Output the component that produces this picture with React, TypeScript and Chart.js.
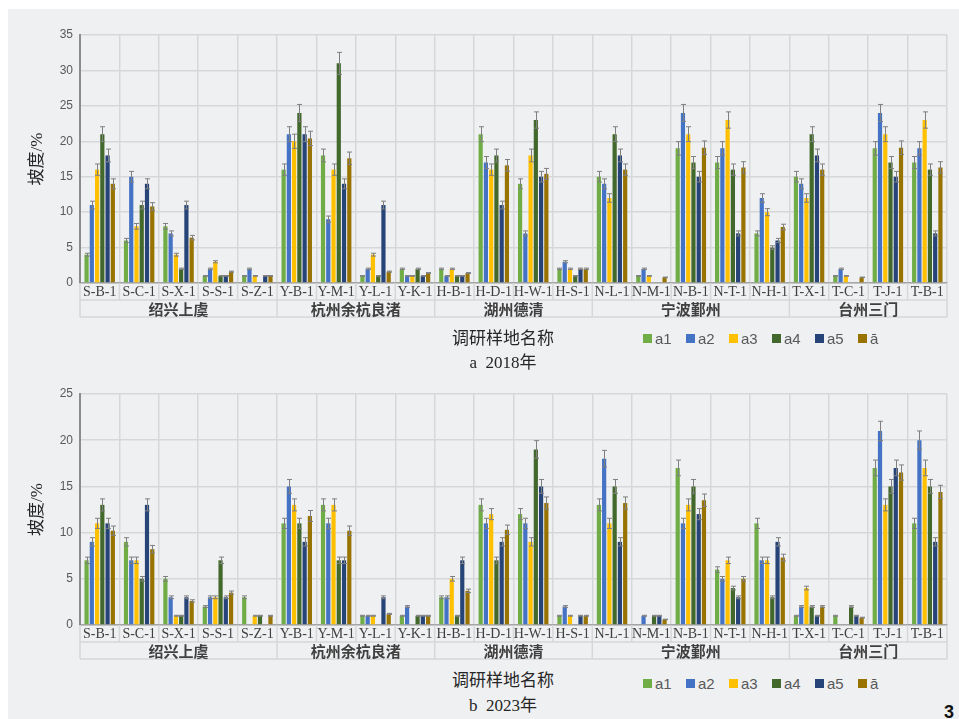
import React, { useEffect, useRef } from "react";
import { Chart, registerables } from "chart.js";

Chart.register(...registerables);

// ---------- data ----------
const categories = [
  "S-B-1", "S-C-1", "S-X-1", "S-S-1", "S-Z-1",
  "Y-B-1", "Y-M-1", "Y-L-1", "Y-K-1",
  "H-B-1", "H-D-1", "H-W-1", "H-S-1",
  "N-L-1", "N-M-1", "N-B-1", "N-T-1", "N-H-1",
  "T-X-1", "T-C-1", "T-J-1", "T-B-1",
];
const groupNames = ["绍兴上虞", "杭州余杭良渚", "湖州德清", "宁波鄞州", "台州三门"];
const groupSizes = [5, 4, 4, 5, 4];

const seriesNames = ["a1", "a2", "a3", "a4", "a5", "ā"];
const seriesColors = ["#70ad47", "#4472c4", "#ffc000", "#43682b", "#264478", "#997300"];

const a1_2018 = [4, 6, 8, 1, 1, 16, 18, 1, 2, 2, 21, 14, 2, 15, 1, 19, 17, 7, 15, 1, 19, 17];
const a2_2018 = [11, 15, 7, 2, 2, 21, 9, 2, 1, 1, 17, 7, 3, 14, 2, 24, 19, 12, 14, 2, 24, 19];
const a3_2018 = [16, 8, 4, 3, 1, 20, 16, 4, 1, 2, 16, 18, 2, 12, 1, 21, 23, 10, 12, 1, 21, 23];
const a4_2018 = [21, 11, 2, 1, 0, 24, 31, 1, 2, 1, 18, 23, 1, 21, 0, 17, 16, 5, 21, 0, 17, 16];
const a5_2018 = [18, 14, 11, 1, 1, 21, 14, 11, 1, 1, 11, 15, 2, 18, 0, 15, 7, 6, 18, 0, 15, 7];
const avg_2018 = [14, 10.8, 6.4, 1.6, 1, 20.4, 17.6, 1.6, 1.4, 1.4, 16.6, 15.4, 2, 16, 0.8, 19.1, 16.3, 7.9, 16, 0.8, 19.1, 16.3];

const a1_2023 = [7, 9, 5, 2, 3, 11, 13, 1, 1, 3, 13, 12, 1, 13, 0, 17, 6, 11, 1, 1, 17, 11];
const a2_2023 = [9, 7, 3, 3, 0, 15, 11, 1, 2, 3, 11, 11, 2, 18, 1, 11, 5, 7, 2, 0, 21, 20];
const a3_2023 = [11, 7, 1, 3, 1, 13, 13, 1, 0, 5, 12, 9, 1, 11, 0, 13, 7, 7, 4, 0, 13, 17];
const a4_2023 = [13, 5, 1, 7, 1, 11, 7, 0, 1, 1, 7, 19, 0, 15, 1, 15, 4, 3, 2, 2, 15, 15];
const a5_2023 = [11, 13, 3, 3, 0, 9, 7, 3, 1, 7, 9, 15, 1, 9, 1, 12, 3, 9, 1, 1, 17, 9];
const avg_2023 = [10.2, 8.2, 2.6, 3.5, 1, 11.8, 10.2, 1.2, 1, 3.7, 10.3, 13.2, 1, 13.2, 0.6, 13.5, 5, 7.3, 2, 0.8, 16.5, 14.4];

const series2018 = [a1_2018, a2_2018, a3_2018, a4_2018, a5_2018, avg_2018];
const series2023 = [a1_2023, a2_2023, a3_2023, a4_2023, a5_2023, avg_2023];

const ERR_PCT = 0.05;
const yTitle = "坡度/%";
const xTitle = "调研样地名称";

// ---------- plugins ----------
const errPlugin = {
  id: "errbars",
  afterDatasetsDraw(chart: any) {
    const ctx = chart.ctx;
    const ys = chart.scales.y;
    ctx.save();
    ctx.strokeStyle = "#7f7f7f";
    ctx.lineWidth = 1;
    chart.data.datasets.forEach((ds: any, i: number) => {
      const meta = chart.getDatasetMeta(i);
      meta.data.forEach((el: any, j: number) => {
        const v = ds.data[j];
        if (!v) return;
        const e = v * ERR_PCT;
        const x = Math.round(el.x) + 0.5;
        const yt = ys.getPixelForValue(v + e);
        const yb = ys.getPixelForValue(v - e);
        ctx.beginPath();
        ctx.moveTo(x, yt);
        ctx.lineTo(x, yb);
        ctx.moveTo(x - 2.5, yt);
        ctx.lineTo(x + 2.5, yt);
        ctx.moveTo(x - 2.5, yb);
        ctx.lineTo(x + 2.5, yb);
        ctx.stroke();
      });
    });
    ctx.restore();
  },
};

const tablePlugin = {
  id: "table",
  afterDraw(chart: any) {
    const { ctx, chartArea } = chart;
    const xs = chart.scales.x;
    const n = categories.length;
    const left = chartArea.left;
    const right = chartArea.right;
    const bottom = chartArea.bottom;
    const step = (right - left) / n;
    const r1 = bottom + 17;
    const r2 = bottom + 34;
    ctx.save();
    ctx.strokeStyle = "#d6d7d9";
    ctx.lineWidth = 1.5;
    const line = (x1: number, y1: number, x2: number, y2: number) => {
      ctx.beginPath();
      ctx.moveTo(x1, y1);
      ctx.lineTo(x2, y2);
      ctx.stroke();
    };
    line(left, r1, right, r1);
    line(left, r2, right, r2);
    for (let i = 0; i <= n; i++) {
      const x = left + i * step;
      line(x, bottom, x, r1);
    }
    let idx = 0;
    line(left, r1, left, r2);
    groupSizes.forEach((s) => {
      idx += s;
      const x = left + idx * step;
      line(x, r1, x, r2);
    });

    ctx.fillStyle = "#404040";
    ctx.textAlign = "center";
    ctx.textBaseline = "middle";
    ctx.font = "14px 'Liberation Serif', 'Times New Roman', serif";
    categories.forEach((c, i) => {
      ctx.fillText(c, xs.getPixelForValue(i), bottom + 9.5);
    });
    ctx.font = "bold 15px 'Noto Sans CJK SC', sans-serif";
    idx = 0;
    groupNames.forEach((g, k) => {
      const x0 = left + idx * step;
      idx += groupSizes[k];
      const x1 = left + idx * step;
      ctx.fillText(g, (x0 + x1) / 2, (r1 + r2) / 2 + 1);
    });

    ctx.translate(30, (chartArea.top + chartArea.bottom) / 2);
    ctx.rotate(-Math.PI / 2);
    ctx.fillStyle = "#262626";
    ctx.font = "17px 'Liberation Serif', 'Noto Sans CJK SC', serif";
    ctx.fillText(yTitle, 0, 0);
    ctx.restore();
  },
};

function makeConfig(series: number[][], yMax: number, padBottom: number): any {
  return {
    type: "bar",
    data: {
      labels: categories,
      datasets: seriesNames.map((name, i) => ({
        label: name,
        data: series[i],
        backgroundColor: seriesColors[i],
        borderWidth: 0,
        categoryPercentage: 0.8,
        barPercentage: 0.8,
      })),
    },
    options: {
      responsive: false,
      maintainAspectRatio: false,
      animation: false,
      layout: { padding: { top: 26, right: 12, bottom: padBottom, left: 0 } },
      plugins: { legend: { display: false }, tooltip: { enabled: false } },
      scales: {
        x: {
          ticks: { display: false },
          grid: { offset: true, drawTicks: false, color: "#d6d7d9", lineWidth: 1.5 },
          border: { color: "#a6a6a6", width: 1.5 },
          afterFit: (s: any) => {
            s.height = 0;
          },
        },
        y: {
          min: 0,
          max: yMax,
          ticks: {
            stepSize: 5,
            padding: 7,
            color: "#595959",
            font: { family: "'Liberation Sans', Arial, sans-serif", size: 12 },
          },
          grid: { drawTicks: false, color: "#d6d7d9", lineWidth: 1.5 },
          border: { color: "#8c8c8c", width: 2 },
          afterFit: (s: any) => {
            s.width = 72;
          },
        },
      },
    },
    plugins: [errPlugin, tablePlugin],
  };
}

function Panel(props: { series: number[][]; yMax: number; top: number; height: number; padBottom: number }) {
  const ref = useRef<HTMLCanvasElement | null>(null);
  useEffect(() => {
    if (!ref.current) return;
    const chart = new Chart(ref.current, makeConfig(props.series, props.yMax, props.padBottom));
    return () => chart.destroy();
  }, []);
  return (
    <canvas
      ref={ref}
      width={951}
      height={props.height}
      style={{ position: "absolute", left: 0, top: props.top, width: 951, height: props.height, display: "block" }}
    />
  );
}

function Legend(props: { top: number }) {
  return (
    <>
      {seriesNames.map((n, i) => (
        <div
          key={n}
          style={{
            position: "absolute",
            left: 635 + i * 43,
            top: props.top,
            height: 18,
            display: "flex",
            alignItems: "center",
            fontFamily: "'Liberation Sans', Arial, sans-serif",
            fontSize: 15,
            color: "#595959",
            whiteSpace: "nowrap",
          }}
        >
          <span style={{ width: 9, height: 9, background: seriesColors[i], display: "inline-block", marginRight: 3 }} />
          <span>{n}</span>
        </div>
      ))}
    </>
  );
}

function Caption(props: { text: string; cy: number }) {
  return (
    <div
      style={{
        position: "absolute",
        left: 395,
        width: 200,
        top: props.cy - 11,
        height: 22,
        lineHeight: "22px",
        textAlign: "center",
        fontFamily: "'Liberation Serif', 'Noto Sans CJK SC', serif",
        fontSize: 17,
        color: "#262626",
        whiteSpace: "pre",
      }}
    >
      {props.text}
    </div>
  );
}

export default function App() {
  return (
    <div
      style={{
        position: "absolute",
        left: 8,
        top: 9,
        width: 951,
        height: 710,
        background: "#eff0f2",
        overflow: "hidden",
      }}
    >
      <Panel series={series2018} yMax={35} top={0} height={320} padBottom={46} />
      <Caption text={xTitle} cy={330} />
      <Legend top={320} />
      <Caption text={"a  2018年"} cy={354} />

      <Panel series={series2023} yMax={25} top={359} height={300} padBottom={43} />
      <Caption text={xTitle} cy={672} />
      <Legend top={665} />
      <Caption text={"b  2023年"} cy={697} />

      <div
        style={{
          position: "absolute",
          left: 936,
          top: 693,
          fontFamily: "'Liberation Sans', Arial, sans-serif",
          fontWeight: "bold",
          fontSize: 18,
          lineHeight: "20px",
          color: "#111",
        }}
      >
        3
      </div>
    </div>
  );
}
